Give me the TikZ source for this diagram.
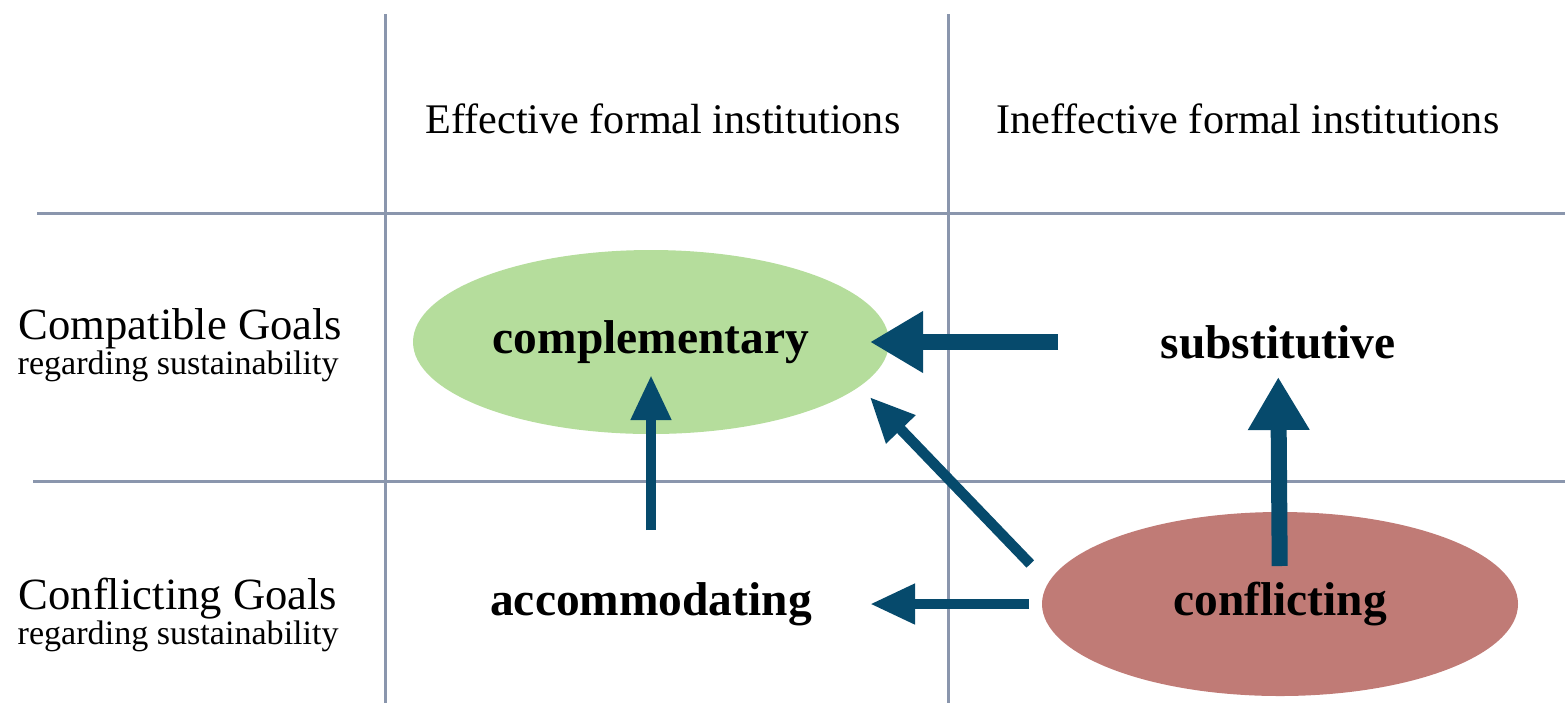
\documentclass[tikz,border=0pt]{standalone}
\usepackage{fontspec}
\setmainfont{Liberation Serif}
\usetikzlibrary{positioning}
\usetikzlibrary{arrows.meta, shapes.geometric}
\definecolor{gridgray}{RGB}{138,150,173}
\definecolor{arrowblue}{RGB}{6,74,108}
\definecolor{goalgreen}{RGB}{181,221,156}
\definecolor{goalred}{RGB}{192,123,118}

\begin{document}
\begin{tikzpicture}[
  gridline/.style={draw=gridgray,line width=0.03cm},
  bigarrow/.style={draw=arrowblue,line width=0.16cm,-{Triangle[length=0.53cm,width=0.58cm]}},
  smallarrow/.style={draw=arrowblue,line width=0.105cm,-{Triangle[length=0.45cm,width=0.38cm]}},
  header/.style={font=\fontsize{12}{14}\selectfont,anchor=base},
  rowlabel/.style={font=\fontsize{12.7}{15}\selectfont,anchor=base west,inner sep=0pt},
  rowsub/.style={font=\fontsize{9.7}{12}\selectfont,anchor=base west,inner sep=0pt},
  kind/.style={font=\bfseries\fontsize{13.5}{16}\selectfont},
  goal/.style={ellipse,minimum width=4.76cm,minimum height=1.84cm,inner sep=0pt}
]
\useasboundingbox (0,0) rectangle (15.65,7.03);

% grid
\draw[gridline] (3.85,6.89) -- (3.85,0);
\draw[gridline] (9.48,6.89) -- (9.48,0);
\draw[gridline] (0.37,4.90) -- (15.65,4.90);
\draw[gridline] (0.33,2.22) -- (15.65,2.22);

% column heads
\node[header] (effhead) at (6.63,5.70) {Effective formal institutions};
\node[header] (ineffhead) at (12.48,5.70) {Ineffective formal institutions};

% row heads
\node[rowlabel] (compgoals) at (0.18,3.64) {Compatible Goals};
\node[rowsub] (compsub) at (0.17,3.29) {regarding sustainability};
\node[rowlabel] (confgoals) at (0.18,0.94) {Conflicting Goals};
\node[rowsub] (confsub) at (0.17,0.59) {regarding sustainability};

% cells
\node[goal,kind,fill=goalgreen] (comp) at (6.51,3.61) {complementary};
\node[kind] (sub) at (12.78,3.61) {substitutive};
\node[kind] (acc) at (6.51,0.99) {accommodating};
\node[goal,kind,fill=goalred] (conf) at (12.80,0.99) {conflicting};

% transitions
\draw[bigarrow,shorten <=2.20cm,shorten >=2.19cm] (sub.center) -- (comp.center);
\draw[bigarrow,shorten <=0.38cm,shorten >=0.35cm] (conf.center) -- (sub.center);
\draw[smallarrow,shorten <=0.74cm,shorten >=0.33cm] (acc.center) -- (comp.center);
\draw[smallarrow,shorten <=2.51cm,shorten >=2.19cm] (conf.center) -- (acc.center);
\draw[smallarrow] ([shift={(-0.11,0.40)}]conf.west) -- ([shift={(-0.20,-0.55)}]comp.east);

\end{tikzpicture}
\end{document}
